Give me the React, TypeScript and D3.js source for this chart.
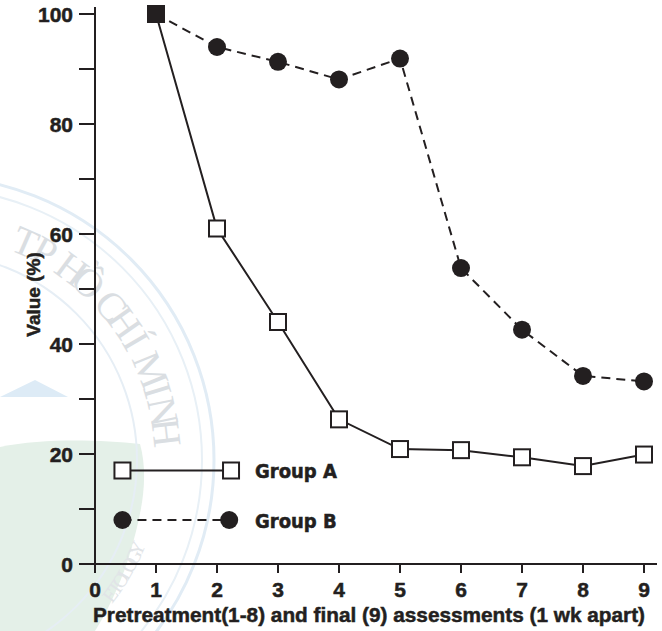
import * as d3 from "d3";

const W = 662;
const H = 631;

// assessment index 1..9
const weeks = [1, 2, 3, 4, 5, 6, 7, 8, 9];
const groupA = [100, 61, 44, 26.3, 20.9, 20.7, 19.4, 17.8, 19.9];
const groupB = [100, 94, 91.3, 88.1, 91.9, 53.8, 42.6, 34.2, 33.2];
const xTicks = [0, 1, 2, 3, 4, 5, 6, 7, 8, 9];
const yMajor = [0, 20, 40, 60, 80, 100];
const yMinor = [10, 30, 50, 70, 90];
const legendNames = ["Group A", "Group B"];
const xTitle = "Pretreatment(1-8) and final (9) assessments (1 wk apart)";
const yTitle = "Value (%)";
const sealTop = "TP HỒ CHÍ MINH";
const sealBottom = "ETOLOGY";

const ink = "#231f20";
const wide = "'Liberation Sans', Arial, Helvetica, sans-serif";
const narrow = "'Liberation Sans Narrow', 'DejaVu Sans Condensed', 'Liberation Sans', sans-serif";

const x = d3.scaleLinear().domain([0, 9]).range([95, 644]);
const y = d3.scaleLinear().domain([0, 100]).range([564, 14]);

const line = d3
  .line<number>()
  .x((_, i) => x(weeks[i]))
  .y((v) => y(v));

// letters of the seal, one by one along an arc (angles in degrees)
const arcLetters = (txt: string, cx: number, cy: number, r: number, a0: number, a1: number) => {
  const w = Array.from(txt).map((c) => (c === " " ? 0.5 : 1));
  const total = d3.sum(w);
  let acc = 0;
  return Array.from(txt).map((c, i) => {
    const mid = acc + w[i] / 2;
    acc += w[i];
    const a = a0 + ((a1 - a0) * mid) / total;
    const rad = (a * Math.PI) / 180;
    return { c, x: cx + r * Math.cos(rad), y: cy + r * Math.sin(rad), rot: a + 90 };
  });
};

// faint seal in the background of the scan
const Watermark = () => {
  const cx = -70;
  const cy = 460;
  const top = arcLetters(sealTop, cx, cy, 238, -69, -4);
  const bottom = arcLetters(sealBottom, cx, cy, 225, 38, 22);
  return (
    <g>
      <path
        d="M0,447 C45,438 100,440 140,444 C150,480 140,520 128,560 C118,590 105,615 95,631 L0,631 Z"
        fill="#e4f0e8"
      />
      <path d="M0,397 L35,380 L68,397 Z" fill="#ddebf6" />
      <circle cx={cx} cy={cy} r={284} fill="none" stroke="#e1ecf5" strokeWidth={3} />
      <circle cx={cx} cy={cy} r={272} fill="none" stroke="#e8f0f6" strokeWidth={2} />
      <circle cx={cx} cy={cy} r={207} fill="none" stroke="#e6eef5" strokeWidth={2} />
      {top.map((l, i) =>
        l.c === " " ? null : (
          <text
            key={"st" + i}
            transform={`translate(${l.x},${l.y}) rotate(${l.rot})`}
            textAnchor="middle"
            dominantBaseline="central"
            fontFamily="'Liberation Serif', serif"
            fontSize={40}
            fill="#dadee2"
          >
            {l.c}
          </text>
        )
      )}
      {bottom.map((l, i) => (
        <text
          key={"sb" + i}
          transform={`translate(${l.x},${l.y}) rotate(${l.rot - 180})`}
          textAnchor="middle"
          dominantBaseline="central"
          fontFamily="'Liberation Serif', serif"
          fontSize={20}
          fill="#e1e4e7"
        >
          {l.c}
        </text>
      ))}
    </g>
  );
};

export default function App() {
  const legendY = [17, 8];
  const txt = { fill: ink, stroke: ink, strokeWidth: 0.5, fontWeight: "bold" as const };
  return (
    <svg
      width={W}
      height={H}
      style={{ position: "absolute", left: 0, top: 0, background: "#fff" }}
    >
      <Watermark />

      {/* y axis */}
      <line x1={x(0)} x2={x(0)} y1={7} y2={y(0)} stroke={ink} strokeWidth={2} />
      {[...yMajor, ...yMinor].map((t) => (
        <line key={"yt" + t} x1={x(0) - 16} x2={x(0)} y1={y(t)} y2={y(t)} stroke={ink} strokeWidth={2} />
      ))}
      {yMajor.map((t) => (
        <text key={"yl" + t} x={x(0) - 22} y={y(t) + 7.5} textAnchor="end" fontFamily={wide} fontSize={21} {...txt}>
          {t}
        </text>
      ))}
      <text
        transform={`translate(40,${y(49)}) rotate(-90)`}
        textAnchor="middle"
        fontFamily={wide}
        fontSize={19}
        {...txt}
      >
        {yTitle}
      </text>

      {/* x axis */}
      <line x1={x(0)} x2={657} y1={y(0)} y2={y(0)} stroke={ink} strokeWidth={2} />
      {xTicks.map((t) => (
        <g key={"xt" + t}>
          <line x1={x(t)} x2={x(t)} y1={y(0)} y2={y(0) + 9} stroke={ink} strokeWidth={2} />
          <text x={x(t)} y={597} textAnchor="middle" fontFamily={wide} fontSize={21} {...txt}>
            {t}
          </text>
        </g>
      ))}
      <text
        x={93}
        y={622}
        fontFamily={wide}
        fontSize={21}
        textLength={552}
        lengthAdjust="spacingAndGlyphs"
        {...txt}
      >
        {xTitle}
      </text>

      {/* series */}
      <path d={line(groupB) ?? ""} fill="none" stroke={ink} strokeWidth={2} strokeDasharray="9,6" />
      <path d={line(groupA) ?? ""} fill="none" stroke={ink} strokeWidth={2} />
      {groupB.map((v, i) => (
        <circle key={"b" + i} cx={x(weeks[i])} cy={y(v)} r={9} fill={ink} />
      ))}
      {groupA.map((v, i) => (
        <rect
          key={"a" + i}
          x={x(weeks[i]) - 8}
          y={y(v) - 8}
          width={16}
          height={16}
          fill={v === groupB[i] ? ink : "#fff"}
          stroke={ink}
          strokeWidth={2}
        />
      ))}

      {/* legend */}
      <g>
        <line x1={x(0.45)} x2={x(2.23)} y1={y(legendY[0])} y2={y(legendY[0])} stroke={ink} strokeWidth={2} />
        {[0.45, 2.23].map((p) => (
          <rect
            key={"la" + p}
            x={x(p) - 8}
            y={y(legendY[0]) - 8}
            width={16}
            height={16}
            fill="#fff"
            stroke={ink}
            strokeWidth={2}
          />
        ))}
        <line
          x1={x(0.45)}
          x2={x(2.2)}
          y1={y(legendY[1])}
          y2={y(legendY[1])}
          stroke={ink}
          strokeWidth={2}
          strokeDasharray="9,6"
        />
        {[0.45, 2.2].map((p) => (
          <circle key={"lb" + p} cx={x(p)} cy={y(legendY[1])} r={9} fill={ink} />
        ))}
        {legendNames.map((n, i) => (
          <text key={n} x={255} y={y(legendY[i]) + 7.5} fontFamily={narrow} fontSize={20} {...txt}>
            {n}
          </text>
        ))}
      </g>
    </svg>
  );
}
